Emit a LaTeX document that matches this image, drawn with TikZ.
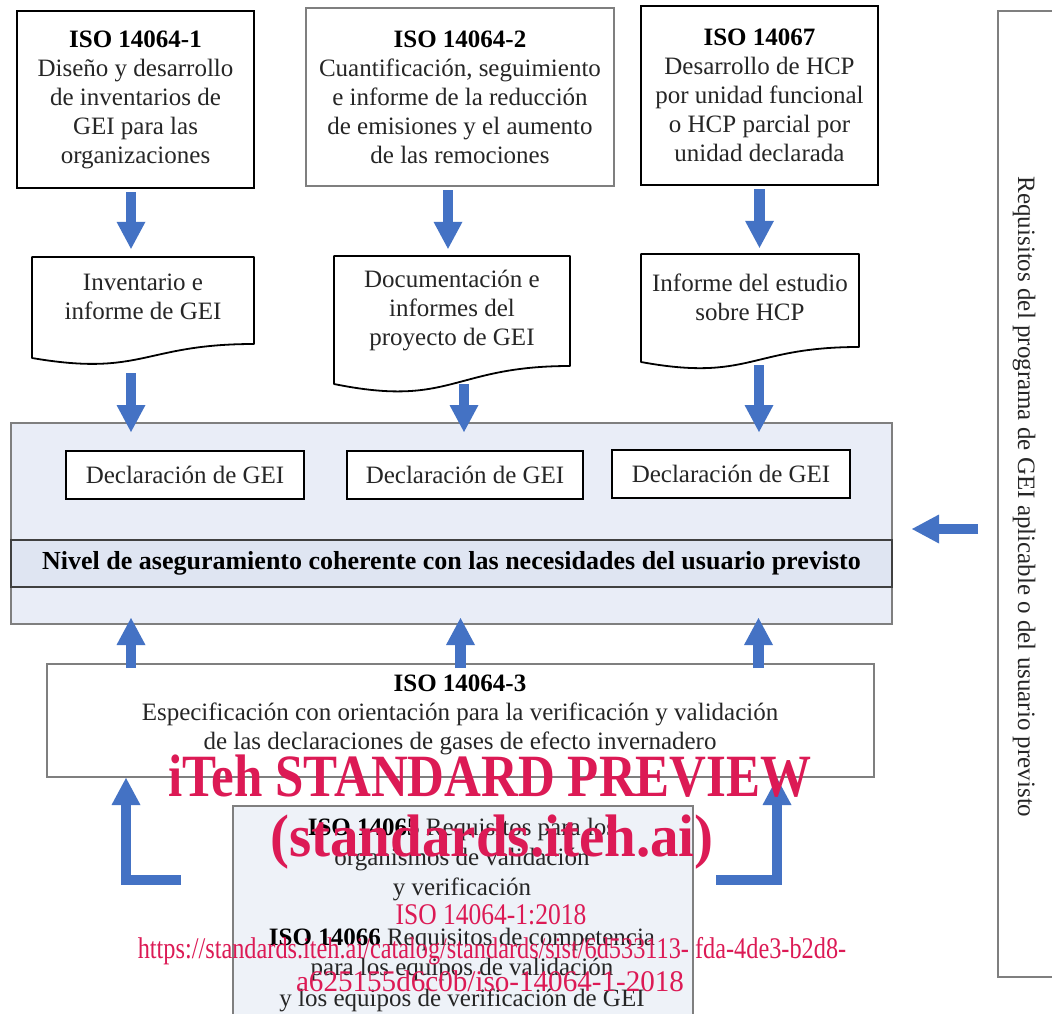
\documentclass[tikz,border=0pt]{standalone}
\usepackage{fontspec}
\setmainfont{Liberation Serif}
\usetikzlibrary{arrows.meta,calc}
\definecolor{ablue}{HTML}{4472C4}
\definecolor{bgblue}{HTML}{E9EDF7}
\definecolor{bandblue}{HTML}{DFE5F2}
\definecolor{botblue}{HTML}{EEF2F8}
\definecolor{gborder}{HTML}{7F7F7F}
\definecolor{dborder}{HTML}{404040}
\definecolor{txt}{HTML}{262626}
\definecolor{wmred}{HTML}{DC1A55}
\begin{document}
\begin{tikzpicture}[x=1pt,y=-1pt,
  every node/.style={text=txt, font=\fontsize{25}{29}\selectfont, align=center, inner sep=0pt},
  blackbox/.style={draw=black, line width=2.5pt, fill=white},
  graybox/.style={draw=gborder, line width=2pt, fill=white},
  blk/.style={draw=ablue, line width=10.5pt, line join=miter,
    -{Triangle[width=29pt,length=27pt,line width=0pt]}},
  docline/.style={draw=black, line width=1.8pt, fill=white, line join=round},
  wmbig/.style={text=wmred, font=\fontsize{60}{64}\selectfont\bfseries, anchor=base},
  wmsmall/.style={text=wmred, font=\fontsize{30}{32}\selectfont, anchor=base},
]
\useasboundingbox[fill=white] (0,0) rectangle (1052,1014);

% top boxes
\node[blackbox, minimum width=237, minimum height=177] (b1) at (135.5,99.5)
  {\textbf{\color{black}ISO 14064-1}\\Diseño y desarrollo\\de inventarios de\\GEI para las\\organizaciones};
\node[graybox, minimum width=308, minimum height=178] (b2) at (460,97)
  {\textbf{\color{black}ISO 14064-2}\\Cuantificación, seguimiento\\e informe de la reducción\\de emisiones y el aumento\\de las remociones};
\node[blackbox, minimum width=237, minimum height=179] (b3) at (759.5,95.5)
  {\textbf{\color{black}ISO 14067}\\Desarrollo de HCP\\por unidad funcional\\o HCP parcial por\\unidad declarada};

% documents
\draw[docline] (32,257) -- (254,257) -- (254,344) .. controls (143,344) and (143,377) .. (32,358) -- cycle;
\node[minimum width=222, minimum height=80] (doc1) at (143,297) {Inventario e\\informe de GEI};
\draw[docline] (334,256) -- (570,256) -- (570,366) .. controls (452,366) and (452,408) .. (334,384) -- cycle;
\node[minimum width=236, minimum height=110] (doc2) at (452,311) {Documentación e\\informes del\\proyecto de GEI};
\draw[docline] (641,254) -- (859,254) -- (859,347) .. controls (750,347) and (750,382) .. (641,362) -- cycle;
\node[minimum width=218, minimum height=86] (doc3) at (750,297) {Informe del estudio\\sobre HCP};

% big box
\node[draw=gborder, line width=2pt, fill=bgblue, minimum width=881, minimum height=201] (big) at (451.5,523.5) {};
\node[draw=dborder, line width=2pt, fill=bandblue, minimum width=881, minimum height=47] (band) at (451.5,563.5)
  {\fontsize{26}{29}\selectfont\textbf{\color{black}Nivel de aseguramiento coherente con las necesidades del usuario previsto}};
\node[blackbox, line width=2pt, minimum width=238, minimum height=48] (dec1) at (185,475) {Declaración de GEI};
\node[blackbox, line width=2pt, minimum width=236, minimum height=48] (dec2) at (465,475) {Declaración de GEI};
\node[blackbox, line width=2pt, minimum width=238, minimum height=48] (dec3) at (731,474) {Declaración de GEI};

% ISO 14064-3
\node[graybox, minimum width=827, minimum height=113] (n3) at (460.5,720.5) {};
\node (n3t) at (460,715) {\textbf{\color{black}ISO 14064-3}\\Especificación con orientación para la verificación y validación\\de las declaraciones de gases de efecto invernadero};

% bottom box
\node[draw=gborder, line width=2pt, fill=botblue, minimum width=460, minimum height=224] (bot) at (463,918) {};
\node[font=\fontsize{25}{30}\selectfont] (bt1) at (462,860) {\textbf{\color{black}ISO 14065} Requisitos para los\\organismos de validación\\y verificación};
\node[font=\fontsize{25}{30.5}\selectfont] (bt2) at (462,970) {\textbf{\color{black}ISO 14066} Requisitos de competencia\\para los equipos de validación\\y los equipos de verificación de GEI};

% right box
\node[draw=gborder, line width=2pt, minimum width=64, minimum height=966] (rbox) at (1030,494) {};
\node[rotate=-90] (rtext) at (1024,497) {Requisitos del programa de GEI aplicable o del usuario previsto};

% arrows
\draw[blk] ($(b1.south)+(-4.5,3)$) -- ($(b1.south |- doc1.north)+(-4.5,-8)$);
\draw[blk] ($(b2.south)+(-12,3)$) -- ($(b2.south |- doc2.north)+(-12,-7)$);
\draw[blk] ($(b3.south)+(0,3)$) -- ($(b3.south |- doc3.north)+(0,-6)$);
\draw[blk] ($(doc1.south)+(-12,36)$) -- ($(big.north -| doc1.south)+(-12,10)$);
\draw[blk] ($(doc2.south)+(12,18)$) -- ($(big.north -| doc2.south)+(12,10)$);
\draw[blk] ($(doc3.south)+(9,25)$) -- ($(big.north -| doc3.south)+(9,10)$);
\draw[blk] ($(n3.north -| b1.south)+(-4.5,5)$) -- ($(big.south -| b1.south)+(-4.5,-7)$);
\draw[blk] ($(n3.north)+(0,5)$) -- ($(big.south -| n3.north)+(0,-7)$);
\draw[blk] ($(n3.north -| b3.south)+(-1,5)$) -- ($(big.south -| b3.south)+(-1,-7)$);
\draw[blk] ($(rbox.west |- big.east)+(-19,5.5)$) -- ($(big.east)+(19,5.5)$);
\coordinate (lstart) at (181,880);
\coordinate (rstart) at (716,880);
\draw[blk] (lstart) -| ($(n3.south west)+(80,0)$);
\draw[blk] (rstart) -| ($(n3.south east)+(-98,0)$);

% watermark
\node[wmbig, xscale=0.85] (wm1) at (490,796) {iTeh STANDARD PREVIEW};
\node[wmbig, xscale=0.95] (wm2) at (492,856) {(standards.iteh.ai)};
\node[wmsmall, xscale=0.85] (wm3) at (491,924) {ISO 14064-1:2018};
\node[wmsmall, xscale=0.81] (wm4) at (492,958) {https://standards.iteh.ai/catalog/standards/sist/6d533113- fda-4de3-b2d8-};
\node[wmsmall, xscale=0.97] (wm5) at (490,991) {a625155d6c0b/iso-14064-1-2018};
\end{tikzpicture}
\end{document}
